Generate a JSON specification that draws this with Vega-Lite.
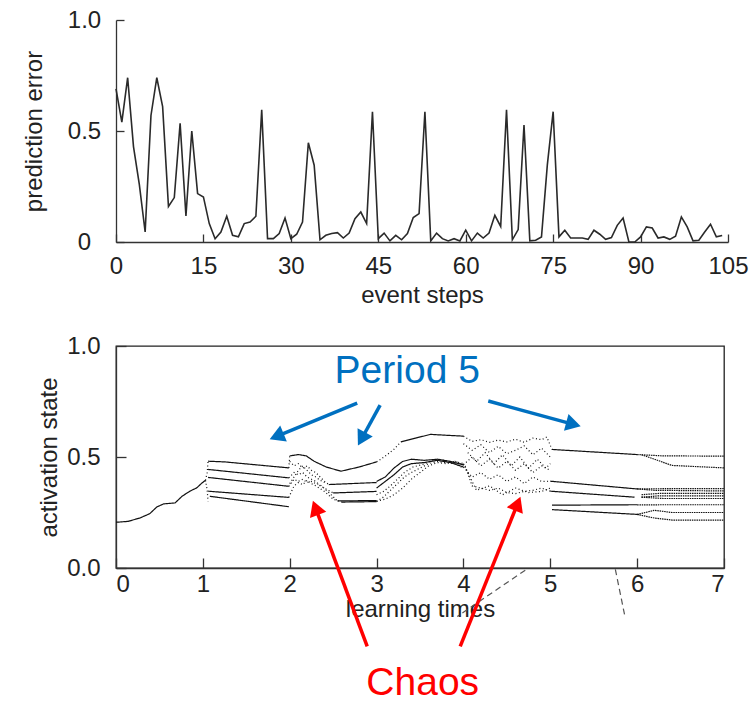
{
  "$schema": "https://vega.github.io/schema/vega-lite/v6.json",
  "padding": {"left": 22, "top": 8, "right": 0, "bottom": 0},
  "spacing": 26,
  "config": {
    "font": "Liberation Sans",
    "axis": {"labelFont": "Liberation Sans", "titleFont": "Liberation Sans", "labelFontSize": 24, "titleFontSize": 24, "titleFontWeight": "normal", "labelColor": "#222", "titleColor": "#222", "domainColor": "#333", "tickColor": "#333", "grid": false, "domainWidth": 1.3, "tickWidth": 1.3}
  },
  "datasets": {
    "err": [
      {"step":0,"e":0.69},{"step":1,"e":0.54},{"step":2,"e":0.74},{"step":3,"e":0.43},{"step":4,"e":0.26},{"step":5,"e":0.045},{"step":6,"e":0.57},{"step":7,"e":0.74},{"step":8,"e":0.61},{"step":9,"e":0.16},
      {"step":10,"e":0.2},{"step":11,"e":0.535},{"step":12,"e":0.117},{"step":13,"e":0.5},{"step":14,"e":0.218},{"step":15,"e":0.203},{"step":16,"e":0.083},{"step":17,"e":0.015},{"step":18,"e":0.045},{"step":19,"e":0.116},
      {"step":20,"e":0.03},{"step":21,"e":0.023},{"step":22,"e":0.083},{"step":23,"e":0.09},{"step":24,"e":0.116},{"step":25,"e":0.595},{"step":26,"e":0.015},{"step":27,"e":0.015},{"step":28,"e":0.038},{"step":29,"e":0.108},
      {"step":30,"e":0.015},{"step":31,"e":0.035},{"step":32,"e":0.09},{"step":33,"e":0.447},{"step":34,"e":0.346},{"step":35,"e":0.01},{"step":36,"e":0.03},{"step":37,"e":0.038},{"step":38,"e":0.042},{"step":39,"e":0.018},
      {"step":40,"e":0.04},{"step":41,"e":0.105},{"step":42,"e":0.135},{"step":43,"e":0.083},{"step":44,"e":0.587},{"step":45,"e":0.015},{"step":46,"e":0.04},{"step":47,"e":0.005},{"step":48,"e":0.03},{"step":49,"e":0.01},
      {"step":50,"e":0.038},{"step":51,"e":0.11},{"step":52,"e":0.128},{"step":53,"e":0.587},{"step":54,"e":0.005},{"step":55,"e":0.04},{"step":56,"e":0.015},{"step":57,"e":0.005},{"step":58,"e":0.015},{"step":59,"e":0.005},
      {"step":60,"e":0.053},{"step":61,"e":0.005},{"step":62,"e":0.04},{"step":63,"e":0.018},{"step":64,"e":0.04},{"step":65,"e":0.12},{"step":66,"e":0.07},{"step":67,"e":0.595},{"step":68,"e":0.01},{"step":69,"e":0.056},
      {"step":70,"e":0.527},{"step":71,"e":0.005},{"step":72,"e":0.008},{"step":73,"e":0.023},{"step":74,"e":0.346},{"step":75,"e":0.587},{"step":76,"e":0.023},{"step":77,"e":0.053},{"step":78,"e":0.018},{"step":79,"e":0.018},
      {"step":80,"e":0.018},{"step":81,"e":0.012},{"step":82,"e":0.053},{"step":83,"e":0.035},{"step":84,"e":0.012},{"step":85,"e":0.02},{"step":86,"e":0.075},{"step":87,"e":0.108},{"step":88,"e":0.0},{"step":89,"e":0.0},
      {"step":90,"e":0.023},{"step":91,"e":0.068},{"step":92,"e":0.063},{"step":93,"e":0.018},{"step":94,"e":0.023},{"step":95,"e":0.012},{"step":96,"e":0.026},{"step":97,"e":0.113},{"step":98,"e":0.068},{"step":99,"e":0.005},
      {"step":100,"e":0.008},{"step":101,"e":0.045},{"step":102,"e":0.08},{"step":103,"e":0.023},{"step":104,"e":0.029}
    ],
    "act": [
      {"s":"p0","r":"stable","t":0,"v":0.206},{"s":"p0","r":"stable","t":0.14,"v":0.21},{"s":"p0","r":"stable","t":0.28,"v":0.226},{"s":"p0","r":"stable","t":0.39,"v":0.245},{"s":"p0","r":"stable","t":0.47,"v":0.275},{"s":"p0","r":"stable","t":0.55,"v":0.289},{"s":"p0","r":"stable","t":0.68,"v":0.293},{"s":"p0","r":"stable","t":0.76,"v":0.323},{"s":"p0","r":"stable","t":0.85,"v":0.346},{"s":"p0","r":"stable","t":0.93,"v":0.361},{"s":"p0","r":"stable","t":0.99,"v":0.383},{"s":"p0","r":"stable","t":1.03,"v":0.395},
      {"s":"p1a","r":"stable","t":1.06,"v":0.481},{"s":"p1a","r":"stable","t":1.25,"v":0.478},{"s":"p1a","r":"stable","t":1.99,"v":0.451},
      {"s":"p1b","r":"stable","t":1.06,"v":0.444},{"s":"p1b","r":"stable","t":1.99,"v":0.406},
      {"s":"p1c","r":"stable","t":1.06,"v":0.408},{"s":"p1c","r":"stable","t":1.99,"v":0.368},
      {"s":"p1d","r":"stable","t":1.06,"v":0.346},{"s":"p1d","r":"stable","t":1.99,"v":0.318},
      {"s":"p1e","r":"stable","t":1.08,"v":0.323},{"s":"p1e","r":"stable","t":1.99,"v":0.276},
      {"s":"p2a","r":"stable","t":2.0,"v":0.505},{"s":"p2a","r":"stable","t":2.1,"v":0.511},{"s":"p2a","r":"stable","t":2.19,"v":0.505},{"s":"p2a","r":"stable","t":2.28,"v":0.481},{"s":"p2a","r":"stable","t":2.42,"v":0.455},{"s":"p2a","r":"stable","t":2.59,"v":0.436},{"s":"p2a","r":"stable","t":2.8,"v":0.455},{"s":"p2a","r":"stable","t":3.0,"v":0.478},
      {"s":"p2b","r":"stable","t":2.45,"v":0.376},{"s":"p2b","r":"stable","t":3.0,"v":0.385},
      {"s":"p2c","r":"stable","t":2.5,"v":0.338},{"s":"p2c","r":"stable","t":3.0,"v":0.345},
      {"s":"p2d","r":"stable","t":2.55,"v":0.302},{"s":"p2d","r":"stable","t":3.0,"v":0.304},
      {"s":"p2e","r":"stable","t":2.6,"v":0.297},{"s":"p2e","r":"stable","t":3.0,"v":0.299},
      {"s":"p3a","r":"stable","t":3.28,"v":0.568},{"s":"p3a","r":"stable","t":3.45,"v":0.585},{"s":"p3a","r":"stable","t":3.62,"v":0.602},{"s":"p3a","r":"stable","t":3.8,"v":0.598},{"s":"p3a","r":"stable","t":4.0,"v":0.594},
      {"s":"p3b","r":"stable","t":3.0,"v":0.39},{"s":"p3b","r":"stable","t":3.1,"v":0.41},{"s":"p3b","r":"stable","t":3.2,"v":0.45},{"s":"p3b","r":"stable","t":3.3,"v":0.48},{"s":"p3b","r":"stable","t":3.4,"v":0.49},{"s":"p3b","r":"stable","t":3.55,"v":0.485},{"s":"p3b","r":"stable","t":3.7,"v":0.49},{"s":"p3b","r":"stable","t":3.85,"v":0.48},{"s":"p3b","r":"stable","t":4.0,"v":0.465},
      {"s":"p3c","r":"stable","t":3.0,"v":0.36},{"s":"p3c","r":"stable","t":3.1,"v":0.39},{"s":"p3c","r":"stable","t":3.2,"v":0.42},{"s":"p3c","r":"stable","t":3.3,"v":0.455},{"s":"p3c","r":"stable","t":3.4,"v":0.47},{"s":"p3c","r":"stable","t":3.55,"v":0.475},{"s":"p3c","r":"stable","t":3.7,"v":0.485},{"s":"p3c","r":"stable","t":3.85,"v":0.475},{"s":"p3c","r":"stable","t":4.0,"v":0.455},
      {"s":"p5a","r":"stable","t":5.02,"v":0.534},{"s":"p5a","r":"stable","t":6.0,"v":0.511},
      {"s":"p5b","r":"stable","t":5.0,"v":0.391},{"s":"p5b","r":"stable","t":6.0,"v":0.356},
      {"s":"p5c","r":"stable","t":5.0,"v":0.346},{"s":"p5c","r":"stable","t":5.97,"v":0.319},
      {"s":"p5d","r":"stable","t":5.02,"v":0.283},{"s":"p5d","r":"stable","t":6.0,"v":0.285},
      {"s":"p5e","r":"stable","t":5.02,"v":0.263},{"s":"p5e","r":"stable","t":6.02,"v":0.241},
      {"s":"t1a","r":"chaotic","t":1.03,"v":0.395},{"s":"t1a","r":"chaotic","t":1.05,"v":0.43},{"s":"t1a","r":"chaotic","t":1.06,"v":0.481},
      {"s":"t1b","r":"chaotic","t":1.03,"v":0.395},{"s":"t1b","r":"chaotic","t":1.05,"v":0.35},{"s":"t1b","r":"chaotic","t":1.06,"v":0.3},
      {"s":"c2a","r":"chaotic","t":1.99,"v":0.451},{"s":"c2a","r":"chaotic","t":2.0,"v":0.505},
      {"s":"c2b","r":"chaotic","t":2.0,"v":0.48},{"s":"c2b","r":"chaotic","t":2.05,"v":0.46},{"s":"c2b","r":"chaotic","t":2.1,"v":0.47},{"s":"c2b","r":"chaotic","t":2.15,"v":0.45},{"s":"c2b","r":"chaotic","t":2.2,"v":0.46},{"s":"c2b","r":"chaotic","t":2.25,"v":0.44},{"s":"c2b","r":"chaotic","t":2.3,"v":0.43},{"s":"c2b","r":"chaotic","t":2.35,"v":0.41},{"s":"c2b","r":"chaotic","t":2.4,"v":0.39},{"s":"c2b","r":"chaotic","t":2.45,"v":0.376},
      {"s":"c2c","r":"chaotic","t":1.99,"v":0.406},{"s":"c2c","r":"chaotic","t":2.05,"v":0.43},{"s":"c2c","r":"chaotic","t":2.1,"v":0.42},{"s":"c2c","r":"chaotic","t":2.15,"v":0.43},{"s":"c2c","r":"chaotic","t":2.2,"v":0.41},{"s":"c2c","r":"chaotic","t":2.25,"v":0.4},{"s":"c2c","r":"chaotic","t":2.3,"v":0.39},{"s":"c2c","r":"chaotic","t":2.35,"v":0.37},{"s":"c2c","r":"chaotic","t":2.4,"v":0.36},{"s":"c2c","r":"chaotic","t":2.5,"v":0.338},
      {"s":"c2d","r":"chaotic","t":1.99,"v":0.368},{"s":"c2d","r":"chaotic","t":2.05,"v":0.4},{"s":"c2d","r":"chaotic","t":2.1,"v":0.39},{"s":"c2d","r":"chaotic","t":2.15,"v":0.4},{"s":"c2d","r":"chaotic","t":2.2,"v":0.385},{"s":"c2d","r":"chaotic","t":2.25,"v":0.39},{"s":"c2d","r":"chaotic","t":2.3,"v":0.38},{"s":"c2d","r":"chaotic","t":2.35,"v":0.375},{"s":"c2d","r":"chaotic","t":2.45,"v":0.34},{"s":"c2d","r":"chaotic","t":2.55,"v":0.302},
      {"s":"c2e","r":"chaotic","t":1.99,"v":0.318},{"s":"c2e","r":"chaotic","t":2.05,"v":0.37},{"s":"c2e","r":"chaotic","t":2.1,"v":0.385},{"s":"c2e","r":"chaotic","t":2.15,"v":0.375},{"s":"c2e","r":"chaotic","t":2.2,"v":0.395},{"s":"c2e","r":"chaotic","t":2.25,"v":0.38},{"s":"c2e","r":"chaotic","t":2.3,"v":0.37},{"s":"c2e","r":"chaotic","t":2.4,"v":0.345},{"s":"c2e","r":"chaotic","t":2.5,"v":0.31},{"s":"c2e","r":"chaotic","t":2.6,"v":0.297},
      {"s":"c2f","r":"chaotic","t":2.0,"v":0.38},{"s":"c2f","r":"chaotic","t":2.05,"v":0.41},{"s":"c2f","r":"chaotic","t":2.1,"v":0.44},{"s":"c2f","r":"chaotic","t":2.15,"v":0.46},{"s":"c2f","r":"chaotic","t":2.2,"v":0.44},{"s":"c2f","r":"chaotic","t":2.25,"v":0.42},{"s":"c2f","r":"chaotic","t":2.3,"v":0.41},{"s":"c2f","r":"chaotic","t":2.35,"v":0.395},{"s":"c2f","r":"chaotic","t":2.4,"v":0.385},
      {"s":"c3a","r":"chaotic","t":3.0,"v":0.478},{"s":"c3a","r":"chaotic","t":3.05,"v":0.49},{"s":"c3a","r":"chaotic","t":3.12,"v":0.51},{"s":"c3a","r":"chaotic","t":3.2,"v":0.535},{"s":"c3a","r":"chaotic","t":3.28,"v":0.568},
      {"s":"c3b","r":"chaotic","t":3.0,"v":0.3},{"s":"c3b","r":"chaotic","t":3.08,"v":0.32},{"s":"c3b","r":"chaotic","t":3.16,"v":0.35},{"s":"c3b","r":"chaotic","t":3.24,"v":0.38},{"s":"c3b","r":"chaotic","t":3.32,"v":0.41},{"s":"c3b","r":"chaotic","t":3.4,"v":0.43},{"s":"c3b","r":"chaotic","t":3.5,"v":0.45},{"s":"c3b","r":"chaotic","t":3.6,"v":0.47},{"s":"c3b","r":"chaotic","t":3.7,"v":0.48},{"s":"c3b","r":"chaotic","t":3.8,"v":0.475},{"s":"c3b","r":"chaotic","t":3.9,"v":0.47},{"s":"c3b","r":"chaotic","t":4.0,"v":0.45},
      {"s":"c3c","r":"chaotic","t":3.0,"v":0.33},{"s":"c3c","r":"chaotic","t":3.08,"v":0.345},{"s":"c3c","r":"chaotic","t":3.16,"v":0.37},{"s":"c3c","r":"chaotic","t":3.24,"v":0.4},{"s":"c3c","r":"chaotic","t":3.32,"v":0.43},{"s":"c3c","r":"chaotic","t":3.42,"v":0.455},{"s":"c3c","r":"chaotic","t":3.52,"v":0.465},{"s":"c3c","r":"chaotic","t":3.62,"v":0.48},{"s":"c3c","r":"chaotic","t":3.72,"v":0.49},{"s":"c3c","r":"chaotic","t":3.82,"v":0.48},{"s":"c3c","r":"chaotic","t":3.92,"v":0.478},{"s":"c3c","r":"chaotic","t":4.02,"v":0.46},
      {"s":"c3d","r":"chaotic","t":3.0,"v":0.3},{"s":"c3d","r":"chaotic","t":3.1,"v":0.31},{"s":"c3d","r":"chaotic","t":3.2,"v":0.33},{"s":"c3d","r":"chaotic","t":3.3,"v":0.36},{"s":"c3d","r":"chaotic","t":3.4,"v":0.4},{"s":"c3d","r":"chaotic","t":3.5,"v":0.43},{"s":"c3d","r":"chaotic","t":3.6,"v":0.46},{"s":"c3d","r":"chaotic","t":3.7,"v":0.475},{"s":"c3d","r":"chaotic","t":3.8,"v":0.47},{"s":"c3d","r":"chaotic","t":3.9,"v":0.48},{"s":"c3d","r":"chaotic","t":4.0,"v":0.47},
      {"s":"k1","r":"chaotic","t":4.0,"v":0.594},{"s":"k1","r":"chaotic","t":4.1,"v":0.57},{"s":"k1","r":"chaotic","t":4.2,"v":0.578},{"s":"k1","r":"chaotic","t":4.3,"v":0.566},{"s":"k1","r":"chaotic","t":4.4,"v":0.576},{"s":"k1","r":"chaotic","t":4.5,"v":0.568},{"s":"k1","r":"chaotic","t":4.6,"v":0.58},{"s":"k1","r":"chaotic","t":4.7,"v":0.566},{"s":"k1","r":"chaotic","t":4.8,"v":0.585},{"s":"k1","r":"chaotic","t":4.9,"v":0.578},{"s":"k1","r":"chaotic","t":4.96,"v":0.59},{"s":"k1","r":"chaotic","t":5.02,"v":0.534},
      {"s":"k2","r":"chaotic","t":4.0,"v":0.56},{"s":"k2","r":"chaotic","t":4.1,"v":0.53},{"s":"k2","r":"chaotic","t":4.2,"v":0.555},{"s":"k2","r":"chaotic","t":4.3,"v":0.52},{"s":"k2","r":"chaotic","t":4.4,"v":0.548},{"s":"k2","r":"chaotic","t":4.5,"v":0.515},{"s":"k2","r":"chaotic","t":4.6,"v":0.53},{"s":"k2","r":"chaotic","t":4.7,"v":0.55},{"s":"k2","r":"chaotic","t":4.8,"v":0.51},{"s":"k2","r":"chaotic","t":4.9,"v":0.54},{"s":"k2","r":"chaotic","t":5.0,"v":0.5},
      {"s":"k3","r":"chaotic","t":4.0,"v":0.465},{"s":"k3","r":"chaotic","t":4.1,"v":0.5},{"s":"k3","r":"chaotic","t":4.2,"v":0.46},{"s":"k3","r":"chaotic","t":4.3,"v":0.49},{"s":"k3","r":"chaotic","t":4.4,"v":0.45},{"s":"k3","r":"chaotic","t":4.5,"v":0.48},{"s":"k3","r":"chaotic","t":4.6,"v":0.44},{"s":"k3","r":"chaotic","t":4.7,"v":0.47},{"s":"k3","r":"chaotic","t":4.8,"v":0.43},{"s":"k3","r":"chaotic","t":4.9,"v":0.46},{"s":"k3","r":"chaotic","t":5.0,"v":0.44},
      {"s":"k4","r":"chaotic","t":4.0,"v":0.455},{"s":"k4","r":"chaotic","t":4.1,"v":0.41},{"s":"k4","r":"chaotic","t":4.2,"v":0.43},{"s":"k4","r":"chaotic","t":4.3,"v":0.4},{"s":"k4","r":"chaotic","t":4.4,"v":0.42},{"s":"k4","r":"chaotic","t":4.5,"v":0.39},{"s":"k4","r":"chaotic","t":4.6,"v":0.41},{"s":"k4","r":"chaotic","t":4.7,"v":0.38},{"s":"k4","r":"chaotic","t":4.8,"v":0.41},{"s":"k4","r":"chaotic","t":4.9,"v":0.39},{"s":"k4","r":"chaotic","t":5.0,"v":0.391},
      {"s":"k5","r":"chaotic","t":4.02,"v":0.46},{"s":"k5","r":"chaotic","t":4.1,"v":0.37},{"s":"k5","r":"chaotic","t":4.2,"v":0.36},{"s":"k5","r":"chaotic","t":4.3,"v":0.35},{"s":"k5","r":"chaotic","t":4.4,"v":0.36},{"s":"k5","r":"chaotic","t":4.5,"v":0.34},{"s":"k5","r":"chaotic","t":4.6,"v":0.335},{"s":"k5","r":"chaotic","t":4.7,"v":0.345},{"s":"k5","r":"chaotic","t":4.8,"v":0.35},{"s":"k5","r":"chaotic","t":4.9,"v":0.36},{"s":"k5","r":"chaotic","t":5.0,"v":0.346},
      {"s":"k6","r":"chaotic","t":4.0,"v":0.47},{"s":"k6","r":"chaotic","t":4.15,"v":0.35},{"s":"k6","r":"chaotic","t":4.3,"v":0.37},{"s":"k6","r":"chaotic","t":4.45,"v":0.33},{"s":"k6","r":"chaotic","t":4.6,"v":0.36},{"s":"k6","r":"chaotic","t":4.75,"v":0.34},{"s":"k6","r":"chaotic","t":4.9,"v":0.345},{"s":"k6","r":"chaotic","t":5.0,"v":0.36},
      {"s":"k7","r":"chaotic","t":4.05,"v":0.52},{"s":"k7","r":"chaotic","t":4.15,"v":0.48},{"s":"k7","r":"chaotic","t":4.25,"v":0.52},{"s":"k7","r":"chaotic","t":4.35,"v":0.47},{"s":"k7","r":"chaotic","t":4.45,"v":0.51},{"s":"k7","r":"chaotic","t":4.55,"v":0.46},{"s":"k7","r":"chaotic","t":4.65,"v":0.5},{"s":"k7","r":"chaotic","t":4.75,"v":0.45},{"s":"k7","r":"chaotic","t":4.85,"v":0.49},{"s":"k7","r":"chaotic","t":4.95,"v":0.45},{"s":"k7","r":"chaotic","t":5.0,"v":0.47},
      {"s":"d1","r":"split","t":6.0,"v":0.511},{"s":"d1","r":"split","t":6.3,"v":0.505},{"s":"d1","r":"split","t":7.0,"v":0.504},
      {"s":"d2","r":"split","t":6.05,"v":0.51},{"s":"d2","r":"split","t":6.2,"v":0.49},{"s":"d2","r":"split","t":6.4,"v":0.462},{"s":"d2","r":"split","t":7.0,"v":0.451},
      {"s":"d3","r":"split","t":6.0,"v":0.356},{"s":"d3","r":"split","t":6.2,"v":0.357},{"s":"d3","r":"split","t":7.0,"v":0.358},
      {"s":"d4","r":"split","t":6.0,"v":0.356},{"s":"d4","r":"split","t":6.2,"v":0.35},{"s":"d4","r":"split","t":7.0,"v":0.347},
      {"s":"d5","r":"split","t":6.05,"v":0.33},{"s":"d5","r":"split","t":6.25,"v":0.336},{"s":"d5","r":"split","t":7.0,"v":0.336},
      {"s":"d6","r":"split","t":6.05,"v":0.319},{"s":"d6","r":"split","t":6.25,"v":0.325},{"s":"d6","r":"split","t":7.0,"v":0.325},
      {"s":"d7","r":"split","t":6.05,"v":0.319},{"s":"d7","r":"split","t":6.3,"v":0.313},{"s":"d7","r":"split","t":7.0,"v":0.313},
      {"s":"d8","r":"split","t":6.0,"v":0.284},{"s":"d8","r":"split","t":6.3,"v":0.285},{"s":"d8","r":"split","t":7.0,"v":0.285},
      {"s":"d9","r":"split","t":6.0,"v":0.241},{"s":"d9","r":"split","t":6.2,"v":0.26},{"s":"d9","r":"split","t":6.4,"v":0.25},{"s":"d9","r":"split","t":7.0,"v":0.25},
      {"s":"d10","r":"split","t":6.0,"v":0.241},{"s":"d10","r":"split","t":6.2,"v":0.225},{"s":"d10","r":"split","t":6.4,"v":0.216},{"s":"d10","r":"split","t":7.0,"v":0.216}
    ],
    "arrows": [
      {"id":"b1","kind":"Period 5","t":2.777,"v":0.743,"t2":1.849,"v2":0.593},
      {"id":"b2","kind":"Period 5","t":3.041,"v":0.734,"t2":2.827,"v2":0.581},
      {"id":"b3","kind":"Period 5","t":4.286,"v":0.752,"t2":5.267,"v2":0.647},
      {"id":"r1","kind":"Chaos","t":2.892,"v":-0.353,"t2":2.297,"v2":0.271},
      {"id":"r2","kind":"Chaos","t":3.963,"v":-0.353,"t2":4.624,"v2":0.29}
    ],
    "guides": [
      {"id":"g1","t":4.712,"v":-0.01,"t2":3.929,"v2":-0.218},
      {"id":"g2","t":5.749,"v":-0.006,"t2":5.864,"v2":-0.227}
    ],
    "labels": [
      {"label":"Period 5","kind":"Period 5","t":3.353,"v":0.834},
      {"label":"Chaos","kind":"Chaos","t":3.531,"v":-0.574}
    ]
  },
  "vconcat": [
    {
      "width": 612,
      "height": 222,
      "view": {"stroke": null},
      "data": {"name": "err"},
      "mark": {"type": "line", "color": "#2a2a2a", "strokeWidth": 1.6},
      "encoding": {
        "x": {"field": "step", "type": "quantitative", "scale": {"domain": [0, 105], "nice": false}, "axis": {"title": "event steps", "values": [0,15,30,45,60,75,90,105], "tickSize": -8, "labelPadding": 20, "titlePadding": 5, "labelFlush": false}},
        "y": {"field": "e", "type": "quantitative", "scale": {"domain": [0, 1], "nice": false}, "axis": {"title": "prediction error", "values": [0, 0.5, 1], "labelExpr": "datum.value == 0 ? '0' : format(datum.value, '.1f')", "tickSize": -8, "labelPadding": 40, "labelAlign": "center", "titlePadding": 21}}
      }
    },
    {
      "width": 608,
      "height": 222,
      "view": {"stroke": "#222", "strokeWidth": 1.3},
      "layer": [
        {
          "data": {"name": "act"},
          "mark": {"type": "line", "color": "#111", "strokeWidth": 1.2},
          "encoding": {
            "x": {"field": "t", "type": "quantitative", "scale": {"domain": [0, 7], "nice": false}, "axis": {"title": "learning times", "values": [0,1,2,3,4,5,6,7], "format": "d", "tickSize": -10, "labelPadding": 14, "titlePadding": 1}},
            "y": {"field": "v", "type": "quantitative", "scale": {"domain": [0, 1], "nice": false}, "axis": {"title": "activation state", "values": [0, 0.5, 1], "format": ".1f", "tickSize": -10, "labelPadding": 26, "titlePadding": 5}},
            "detail": {"field": "s"},
            "strokeDash": {"field": "r", "type": "nominal", "scale": {"domain": ["stable", "chaotic", "split"], "range": [[1, 0], [1, 2.5], [1.5, 0.8]]}, "legend": null}
          }
        },
        {
          "data": {"name": "guides"},
          "mark": {"type": "rule", "color": "#555", "strokeWidth": 1.2, "strokeDash": [6, 4]},
          "encoding": {
            "x": {"field": "t", "type": "quantitative"},
            "y": {"field": "v", "type": "quantitative"},
            "x2": {"field": "t2"},
            "y2": {"field": "v2"}
          }
        },
        {
          "data": {"name": "arrows"},
          "mark": {"type": "rule", "strokeWidth": 3.5},
          "encoding": {
            "x": {"field": "t", "type": "quantitative"},
            "y": {"field": "v", "type": "quantitative"},
            "x2": {"field": "t2"},
            "y2": {"field": "v2"},
            "color": {"field": "kind", "type": "nominal", "scale": {"domain": ["Period 5", "Chaos"], "range": ["#0070C0", "#FF0000"]}, "legend": null}
          }
        },
        {
          "data": {"name": "arrows"},
          "transform": [{"filter": "datum.id == 'b1'"}],
          "mark": {"type": "point", "shape": "triangle-up", "filled": true, "opacity": 1, "size": 300, "angle": 247.5},
          "encoding": {"x": {"field": "t2", "type": "quantitative"}, "y": {"field": "v2", "type": "quantitative"}, "color": {"field": "kind", "type": "nominal", "legend": null}}
        },
        {
          "data": {"name": "arrows"},
          "transform": [{"filter": "datum.id == 'b2'"}],
          "mark": {"type": "point", "shape": "triangle-up", "filled": true, "opacity": 1, "size": 300, "angle": 208.8},
          "encoding": {"x": {"field": "t2", "type": "quantitative"}, "y": {"field": "v2", "type": "quantitative"}, "color": {"field": "kind", "type": "nominal", "legend": null}}
        },
        {
          "data": {"name": "arrows"},
          "transform": [{"filter": "datum.id == 'b3'"}],
          "mark": {"type": "point", "shape": "triangle-up", "filled": true, "opacity": 1, "size": 300, "angle": 105.2},
          "encoding": {"x": {"field": "t2", "type": "quantitative"}, "y": {"field": "v2", "type": "quantitative"}, "color": {"field": "kind", "type": "nominal", "legend": null}}
        },
        {
          "data": {"name": "arrows"},
          "transform": [{"filter": "datum.id == 'r1'"}],
          "mark": {"type": "point", "shape": "triangle-up", "filled": true, "opacity": 1, "size": 300, "angle": 339.6},
          "encoding": {"x": {"field": "t2", "type": "quantitative"}, "y": {"field": "v2", "type": "quantitative"}, "color": {"field": "kind", "type": "nominal", "legend": null}}
        },
        {
          "data": {"name": "arrows"},
          "transform": [{"filter": "datum.id == 'r2'"}],
          "mark": {"type": "point", "shape": "triangle-up", "filled": true, "opacity": 1, "size": 300, "angle": 22.0},
          "encoding": {"x": {"field": "t2", "type": "quantitative"}, "y": {"field": "v2", "type": "quantitative"}, "color": {"field": "kind", "type": "nominal", "legend": null}}
        },
        {
          "data": {"name": "labels"},
          "mark": {"type": "text", "fontSize": 39, "font": "Liberation Sans", "baseline": "alphabetic", "align": "center"},
          "encoding": {
            "x": {"field": "t", "type": "quantitative"},
            "y": {"field": "v", "type": "quantitative"},
            "text": {"field": "label"},
            "color": {"field": "kind", "type": "nominal", "legend": null}
          }
        }
      ]
    }
  ]
}
